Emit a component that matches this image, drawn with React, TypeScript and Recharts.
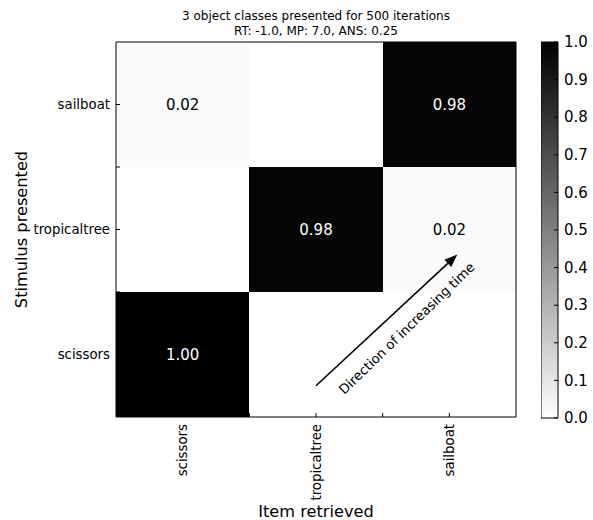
import { ComposedChart, XAxis, YAxis, ReferenceArea, ReferenceLine, ReferenceDot, Scatter, Label } from 'recharts'

const FONT = '"DejaVu Sans", sans-serif'

// columns (x axis), left to right
const retrieved = ['scissors', 'tropicaltree', 'sailboat']
// rows (y axis), bottom to top
const presented = ['scissors', 'tropicaltree', 'sailboat']

const scissorsRow = [1.0, 0, 0]
const tropicaltreeRow = [0, 0.98, 0.02]
const sailboatRow = [0.02, 0, 0.98]
const rows = [scissorsRow, tropicaltreeRow, sailboatRow]

const cellTicks = [0.5, 1, 1.5, 2, 2.5]
const colorbarTicks = [0, 0.1, 0.2, 0.3, 0.4, 0.5, 0.6, 0.7, 0.8, 0.9, 1.0]

const titleLines = ['3 object classes presented for 500 iterations', 'RT: -1.0, MP: 7.0, ANS: 0.25']

const arrowStart = { x: 1.5, y: 0.25 }
const arrowEnd = { x: 2.56, y: 1.3 }
const arrowNote = { x: 2.18, y: 0.71, text: 'Direction of increasing time' }

const cells = rows.flatMap((row, r) =>
  row.map((v, c) => ({ x: c + 0.5, y: r + 0.5, col: c, row: r, v }))
)
const colorbarPoints = colorbarTicks.map((v) => ({ x: 0.5, y: v }))

const gray = (v: number) => {
  const g = Math.round(255 * (1 - v))
  return `rgb(${g},${g},${g})`
}

const isMajor = (v: number) => Math.abs((v % 1) - 0.5) < 1e-6
const TICK = 4

function BottomTick(props: any) {
  const { x, y, payload } = props
  const v = payload.value
  return (
    <g>
      <line x1={x} x2={x} y1={y} y2={y - TICK} stroke="#000" />
      {isMajor(v) && (
        <text
          transform={`translate(${x},${y + 7}) rotate(-90)`}
          textAnchor="end"
          dy="0.35em"
          fontSize={13.3}
          fontFamily={FONT}
          fill="#000"
        >
          {retrieved[Math.floor(v)]}
        </text>
      )}
    </g>
  )
}

function TopTick(props: any) {
  const { x, y } = props
  return <line x1={x} x2={x} y1={y} y2={y + TICK} stroke="#000" />
}

function LeftTick(props: any) {
  const { x, y, payload } = props
  const v = payload.value
  return (
    <g>
      <line x1={x} x2={x + TICK} y1={y} y2={y} stroke="#000" />
      {isMajor(v) && (
        <text x={x - 6} y={y} dy="0.35em" textAnchor="end" fontSize={13.3} fontFamily={FONT} fill="#000">
          {presented[Math.floor(v)]}
        </text>
      )}
    </g>
  )
}

function RightTick(props: any) {
  const { x, y } = props
  return <line x1={x} x2={x - TICK} y1={y} y2={y} stroke="#000" />
}

function ColorbarTick(props: any) {
  const { x, y, payload } = props
  return (
    <g>
      <line x1={x} x2={x - TICK} y1={y} y2={y} stroke="#000" />
      <text x={x + 6} y={y} dy="0.35em" textAnchor="start" fontSize={15} fontFamily={FONT} fill="#000">
        {payload.value.toFixed(1)}
      </text>
    </g>
  )
}

function CellText(props: any) {
  const { cx, cy, payload } = props
  if (!payload || payload.v <= 0) return <g />
  return (
    <text
      x={cx}
      y={cy}
      dy="0.35em"
      textAnchor="middle"
      fontSize={15}
      fontFamily={FONT}
      fill={payload.v > 0.5 ? '#fff' : '#000'}
    >
      {payload.v.toFixed(2)}
    </text>
  )
}

function Arrow(props: any) {
  const { x1, y1, x2, y2 } = props
  const dx = x2 - x1
  const dy = y2 - y1
  const len = Math.sqrt(dx * dx + dy * dy)
  const ux = dx / len
  const uy = dy / len
  const head = 13
  const half = 5
  const bx = x2 - ux * head
  const by = y2 - uy * head
  return (
    <g>
      <line x1={x1} y1={y1} x2={bx} y2={by} stroke="#000" strokeWidth={1.6} />
      <polygon
        points={`${x2},${y2} ${bx - uy * half},${by + ux * half} ${bx + uy * half},${by - ux * half}`}
        fill="#000"
      />
    </g>
  )
}

function ArrowText(props: any) {
  const { cx, cy } = props
  return (
    <text
      transform={`translate(${cx},${cy}) rotate(-44)`}
      textAnchor="middle"
      dy="0.35em"
      fontSize={13.2}
      fontFamily={FONT}
      fill="#000"
    >
      {arrowNote.text}
    </text>
  )
}

export default function App() {
  return (
    <div style={{ position: 'absolute', left: 0, top: 0, width: 593, height: 520, background: '#fff' }}>
      <div style={{ position: 'absolute', left: 0, top: 0 }}>
        <ComposedChart width={593} height={520} margin={{ top: 41, right: 76, bottom: 0, left: 0 }}>
          <XAxis
            xAxisId={0}
            type="number"
            dataKey="x"
            domain={[0, 3]}
            ticks={cellTicks}
            height={103}
            tickSize={0}
            tickMargin={0}
            tickLine={false}
            axisLine={{ stroke: '#000' }}
            tick={(p: any) => <BottomTick {...p} />}
            interval={0}
          >
            <Label
              content={(p: any) => {
                const vb = p.viewBox
                return (
                  <text x={vb.x + vb.width / 2} y={vb.y + 94} dy="0.35em" textAnchor="middle" fontSize={16.2} fontFamily={FONT} fill="#000">
                    Item retrieved
                  </text>
                )
              }}
            />
          </XAxis>
          <XAxis
            xAxisId="top"
            orientation="top"
            type="number"
            domain={[0, 3]}
            ticks={cellTicks}
            height={1}
            tickSize={0}
            tickMargin={0}
            tickLine={false}
            axisLine={{ stroke: '#000' }}
            tick={(p: any) => <TopTick {...p} />}
            interval={0}
          >
            <Label
              content={(p: any) => {
                const vb = p.viewBox
                const cx = vb.x + vb.width / 2
                return (
                  <g>
                    {titleLines.map((t, i) => (
                      <text key={t} x={cx} y={16 + i * 15} dy="0.35em" textAnchor="middle" fontSize={12} fontFamily={FONT} fill="#000">
                        {t}
                      </text>
                    ))}
                  </g>
                )
              }}
            />
          </XAxis>
          <YAxis
            yAxisId={0}
            type="number"
            dataKey="y"
            domain={[0, 3]}
            ticks={cellTicks}
            width={116}
            tickSize={0}
            tickMargin={0}
            tickLine={false}
            axisLine={{ stroke: '#000' }}
            tick={(p: any) => <LeftTick {...p} />}
            interval={0}
          >
            <Label
              content={(p: any) => {
                const vb = p.viewBox
                const cy = vb.y + vb.height / 2
                return (
                  <text transform={`translate(21,${cy}) rotate(-90)`} dy="0.35em" textAnchor="middle" fontSize={16.2} fontFamily={FONT} fill="#000">
                    Stimulus presented
                  </text>
                )
              }}
            />
          </YAxis>
          <YAxis
            yAxisId="right"
            orientation="right"
            type="number"
            domain={[0, 3]}
            ticks={cellTicks}
            width={1}
            tickSize={0}
            tickMargin={0}
            tickLine={false}
            axisLine={{ stroke: '#000' }}
            tick={(p: any) => <RightTick {...p} />}
            interval={0}
          />
          {cells.map((c) => (
            <ReferenceArea
              key={`${c.row}-${c.col}`}
              x1={c.col}
              x2={c.col + 1}
              y1={c.row}
              y2={c.row + 1}
              fill={gray(c.v)}
              fillOpacity={1}
              stroke="none"
              shapeRendering="crispEdges"
            />
          ))}
          <Scatter data={cells} dataKey="y" isAnimationActive={false} shape={(p: any) => <CellText {...p} />} />
          <ReferenceLine
            segment={[arrowStart, arrowEnd]}
            shape={(p: any) => <Arrow {...p} />}
          />
          <ReferenceDot x={arrowNote.x} y={arrowNote.y} r={1} shape={(p: any) => <ArrowText {...p} />} />
        </ComposedChart>
      </div>
      <div style={{ position: 'absolute', left: 541, top: 0 }}>
        <ComposedChart width={52} height={520} margin={{ top: 42, right: 0, bottom: 102, left: 0 }}>
          <defs>
            <linearGradient id="cbGrad" x1="0" y1="0" x2="0" y2="1">
              <stop offset="0%" stopColor="#000" />
              <stop offset="100%" stopColor="#fff" />
            </linearGradient>
          </defs>
          <XAxis type="number" dataKey="x" domain={[0, 1]} hide />
          <YAxis
            orientation="right"
            type="number"
            dataKey="y"
            domain={[0, 1]}
            ticks={colorbarTicks}
            width={35}
            tickSize={0}
            tickMargin={0}
            tickLine={false}
            axisLine={false}
            tick={(p: any) => <ColorbarTick {...p} />}
            interval={0}
          />
          <ReferenceArea x1={0} x2={1} y1={0} y2={1} fill="url(#cbGrad)" fillOpacity={1} stroke="#000" />
          <Scatter data={colorbarPoints} isAnimationActive={false} shape={() => <g />} />
        </ComposedChart>
      </div>
    </div>
  )
}
